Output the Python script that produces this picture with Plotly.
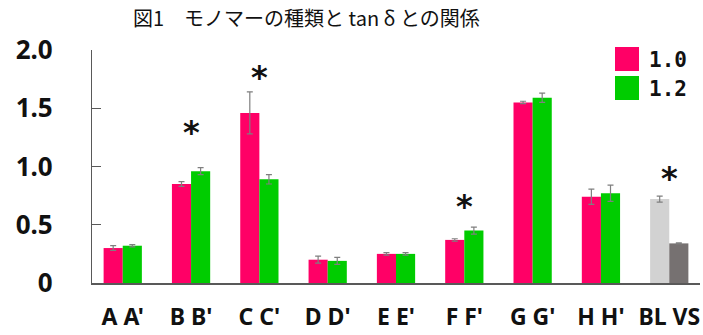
import plotly.graph_objects as go

groups = ["A A'", "B B'", "C C'", "D D'", "E E'", "F F'", "G G'", "H H'", "BL VS"]
vals_10 = [0.30, 0.85, 1.46, 0.20, 0.25, 0.37, 1.55, 0.74, 0.72]
err_10 = [0.02, 0.02, 0.18, 0.03, 0.01, 0.01, 0.01, 0.065, 0.025]
vals_12 = [0.32, 0.96, 0.89, 0.19, 0.25, 0.45, 1.59, 0.77, 0.34]
err_12 = [0.01, 0.03, 0.04, 0.03, 0.01, 0.03, 0.04, 0.07, 0.005]
colors_10 = ["#FF0066"] * 8 + ["#D2D2D2"]
colors_12 = ["#00CC00"] * 8 + ["#767171"]
star_groups = [1, 2, 5, 8]
star_y = [1.30, 1.77, 0.66, 0.90]
yticks = [0, 0.5, 1.0, 1.5, 2.0]
ytext = ["0", "0.5", "1.0", "1.5", "2.0"]
legend_names = ["1.0", "1.2"]
legend_colors = ["#FF0066", "#00CC00"]

xpos = list(range(len(groups)))

fig = go.Figure()
fig.add_trace(go.Bar(x=xpos, y=vals_10, name="1.0", marker=dict(color=colors_10, line=dict(width=0)),
                     error_y=dict(type="data", array=err_10, color="#7F7F7F", thickness=1.2, width=3),
                     showlegend=False))
fig.add_trace(go.Bar(x=xpos, y=vals_12, name="1.2", marker=dict(color=colors_12, line=dict(width=0)),
                     error_y=dict(type="data", array=err_12, color="#7F7F7F", thickness=1.2, width=3),
                     showlegend=False))

for g, sy in zip(star_groups, star_y):
    fig.add_annotation(x=g, y=sy, text="*", showarrow=False, xref="x", yref="y",
                       font=dict(family="DejaVu Sans", size=32, color="#111111", weight="bold"),
                       yanchor="middle")

# legend
for i, (nm, c) in enumerate(zip(legend_names, legend_colors)):
    fig.add_shape(type="rect", xref="paper", yref="paper",
                  x0=(615 - 92) / 608, x1=(639 - 92) / 608,
                  y0=(283 - (47 + 29 * i + 24)) / 233, y1=(283 - (47 + 29 * i)) / 233,
                  fillcolor=c, line=dict(width=0))
    fig.add_annotation(xref="paper", yref="paper", x=(647 - 92) / 608, y=(283 - (60 + 29 * i)) / 233,
                       text=nm, showarrow=False, xanchor="left", yanchor="middle",
                       font=dict(family="DejaVu Sans Mono", size=21, color="#111111", weight="bold"))

fig.add_annotation(xref="paper", yref="paper", x=(306 - 92) / 608, y=(283 - 17) / 233,
                   text="図1　モノマーの種類と tan δ との関係", showarrow=False,
                   xanchor="center", yanchor="middle",
                   font=dict(family="Noto Sans CJK JP", size=20, color="#111111"))

fig.update_layout(
    width=703, height=335,
    margin=dict(l=92, r=3, t=50, b=52),
    paper_bgcolor="white", plot_bgcolor="white",
    barmode="group", bargap=0.44, bargroupgap=0,
    showlegend=False,
    xaxis=dict(range=[-0.45, 8.45], tickmode="array", tickvals=xpos, ticktext=groups,
               showline=True, linecolor="#595959", linewidth=1.5, ticks="", showgrid=False,
               zeroline=False, tickfont=dict(family="Noto Sans", size=23, color="#111111", weight="bold"),
               ticklabelstandoff=13, automargin=False),
    yaxis=dict(range=[0, 2], tickmode="array", tickvals=yticks, ticktext=ytext,
               showline=True, linecolor="#595959", linewidth=1.2, ticks="inside", ticklen=9,
               tickcolor="#595959", showgrid=False, zeroline=False,
               tickfont=dict(family="Noto Sans", size=26, color="#111111", weight="bold"),
               ticklabelstandoff=33, automargin=False),
)
fig.write_html("out.html")
